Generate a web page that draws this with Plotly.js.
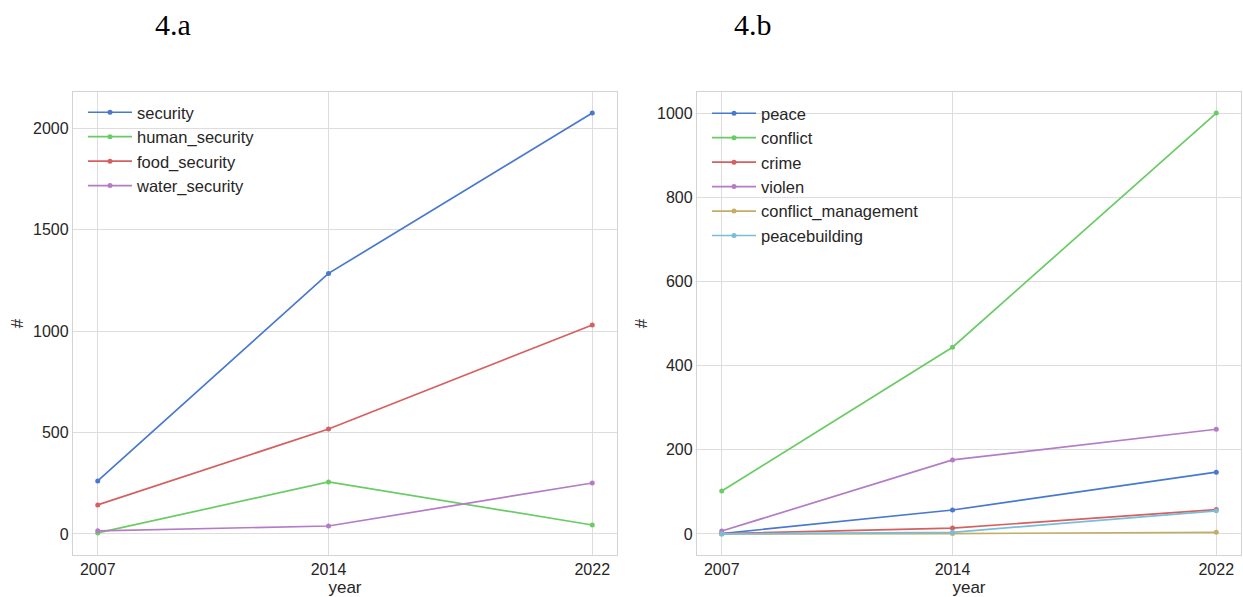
<!DOCTYPE html>
<html><head><meta charset="utf-8">
<script src="https://cdn.plot.ly/plotly-3.0.1.min.js"></script>
<style>html,body{margin:0;padding:0;background:#fff}#chart{width:1243px;height:597px}</style>
</head><body><div id="chart"></div>
<script>
const years = [2007, 2014, 2022];
const yearLabels = ['2007', '2014', '2022'];

// 4.a
const security = [261, 1284, 2074];
const human_security = [5, 256, 44];
const food_security = [143, 517, 1030];
const water_security = [15, 39, 251];

// 4.b
const peace = [1, 57, 147];
const conflict = [102, 444, 1001];
const crime = [1, 14, 58];
const violen = [7, 176, 249];
const conflict_management = [0, 1, 4];
const peacebuilding = [0, 4, 55];

const leftSeries = [
  ['security', security, '#4878CF'],
  ['human_security', human_security, '#6ACC65'],
  ['food_security', food_security, '#D65F5F'],
  ['water_security', water_security, '#B47CC7']
];
const rightSeries = [
  ['peace', peace, '#4878CF'],
  ['conflict', conflict, '#6ACC65'],
  ['crime', crime, '#D65F5F'],
  ['violen', violen, '#B47CC7'],
  ['conflict_management', conflict_management, '#C4AD66'],
  ['peacebuilding', peacebuilding, '#77BEDB']
];

const traces = [];
leftSeries.forEach(([name, vals, color], i) => {
  traces.push({x: years, y: vals, name: name, type: 'scatter', mode: 'lines+markers',
    line: {color: color, width: 1.7}, marker: {color: color, size: 5},
    xaxis: 'x', yaxis: 'y', legend: 'legend', legendgroup: 'a' + i});
});
rightSeries.forEach(([name, vals, color], i) => {
  traces.push({x: years, y: vals, name: name, type: 'scatter', mode: 'lines+markers',
    line: {color: color, width: 1.7}, marker: {color: color, size: 5},
    xaxis: 'x2', yaxis: 'y2', legend: 'legend2', legendgroup: 'b' + i});
});

const tickFont = {family: 'Liberation Sans, Arial, sans-serif', size: 16, color: '#262626'};
const legFont = {family: 'Liberation Sans, Arial, sans-serif', size: 16.5, color: '#262626'};
const titleFont = {family: 'Liberation Sans, Arial, sans-serif', size: 17, color: '#262626'};
const gridC = '#dddddd', lineC = '#d3d3d3';
const W = 1243, H = 597;
function xa(domain, anchor) {
  return {domain: domain, anchor: anchor, range: [2006.25, 2022.75], tickmode: 'array',
    tickvals: years, ticktext: yearLabels, showgrid: true, gridcolor: gridC, gridwidth: 1,
    zeroline: false, showline: true, linecolor: lineC, linewidth: 1.2, mirror: true,
    ticks: '', tickfont: tickFont, automargin: false,
    title: {text: 'year', font: titleFont, standoff: 1}};
}
function ya(domain, anchor, range, dtick) {
  return {domain: domain, anchor: anchor, range: range, dtick: dtick, tick0: 0,
    showgrid: true, gridcolor: gridC, gridwidth: 1, zeroline: false,
    showline: true, linecolor: lineC, linewidth: 1.2, mirror: true,
    ticks: '', tickfont: tickFont, automargin: false,
    title: {text: '#', font: titleFont, standoff: 5}};
}
const yDom = [(H - 555) / H, (H - 92) / H];

const layout = {
  width: W, height: H, paper_bgcolor: '#fff', plot_bgcolor: '#fff',
  margin: {l: 0, r: 0, t: 0, b: 0},
  showlegend: true, font: tickFont,
  xaxis: xa([73 / W, 617 / W], 'y'),
  yaxis: ya(yDom, 'x', [-104, 2178], 500),
  xaxis2: xa([697 / W, 1241 / W], 'y2'),
  yaxis2: ya(yDom, 'x2', [-50, 1051], 200),
  legend: {x: 83 / W, y: 1 - 95 / H, xanchor: 'left', yanchor: 'top', bgcolor: 'rgba(0,0,0,0)',
    font: legFont, tracegroupgap: 0, itemwidth: 44},
  legend2: {x: 707 / W, y: 1 - 96 / H, xanchor: 'left', yanchor: 'top', bgcolor: 'rgba(0,0,0,0)',
    font: legFont, tracegroupgap: 0, itemwidth: 44},
  annotations: [
    {text: '4.a', x: 173 / W, y: 1 - 25 / H, xref: 'paper', yref: 'paper', xanchor: 'center', yanchor: 'middle',
     showarrow: false, font: {family: 'Liberation Serif, DejaVu Serif, serif', size: 30, color: '#000'}},
    {text: '4.b', x: 753 / W, y: 1 - 25 / H, xref: 'paper', yref: 'paper', xanchor: 'center', yanchor: 'middle',
     showarrow: false, font: {family: 'Liberation Serif, DejaVu Serif, serif', size: 30, color: '#000'}}
  ]
};
Plotly.newPlot('chart', traces, layout, {displayModeBar: false, staticPlot: true});
</script></body></html>
